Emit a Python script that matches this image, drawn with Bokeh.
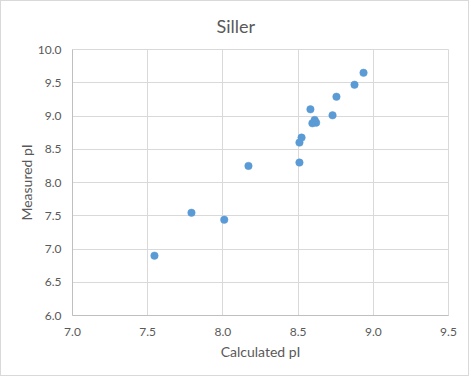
from bokeh.plotting import figure
from bokeh.models import Range1d, FixedTicker, NumeralTickFormatter
from bokeh.embed import file_html
from bokeh.resources import INLINE

calculated_pi = [8.935, 8.875, 8.755, 8.582, 8.729, 8.595, 8.610, 8.620,
                 8.523, 8.509, 8.509, 8.170, 7.791, 8.009, 7.545]
measured_pi = [9.65, 9.47, 9.29, 9.10, 9.01, 8.89, 8.94, 8.90,
               8.675, 8.60, 8.30, 8.25, 7.545, 7.44, 6.90]
x_ticks = [7.0, 7.5, 8.0, 8.5, 9.0, 9.5]
y_ticks = [6.0, 6.5, 7.0, 7.5, 8.0, 8.5, 9.0, 9.5, 10.0]

FONT = "Lato"
TXT = "#595959"

p = figure(width=469, height=376, output_backend="svg", toolbar_location=None,
           x_range=Range1d(7.0, 9.5), y_range=Range1d(6.0, 10.0),
           min_border_left=71, min_border_right=22, min_border_top=48, min_border_bottom=62,
           title="Siller")
p.styles = {"border": "1px solid #d9d9d9"}
p.title.align = "left"
p.title.vertical_align = "top"
p.title.text_font = FONT
p.title.text_font_size = "18px"
p.title.text_font_style = "normal"
p.title.text_color = TXT
p.title.offset = 144
p.title.standoff = 22

p.outline_line_color = "#d9d9d9"
p.background_fill_color = "white"
p.border_fill_color = "white"

for ax, ticks in ((p.xaxis[0], x_ticks), (p.yaxis[0], y_ticks)):
    ax.ticker = FixedTicker(ticks=ticks)
    ax.formatter = NumeralTickFormatter(format="0.0")
    ax.major_tick_line_color = None
    ax.minor_tick_line_color = None
    ax.major_tick_out = 0
    ax.major_tick_in = 0
    ax.axis_line_color = "#bfbfbf"
    ax.major_label_text_font = FONT
    ax.major_label_text_font_size = "12px"
    ax.major_label_text_color = TXT
    ax.axis_label_text_font = FONT
    ax.axis_label_text_font_size = "14px"
    ax.axis_label_text_font_style = "normal"
    ax.axis_label_text_color = TXT

p.xaxis.axis_label = "Calculated pI"
p.yaxis.axis_label = "Measured pI"
p.xaxis.major_label_standoff = 12
p.yaxis.major_label_standoff = 11
p.xaxis.axis_label_standoff = 4
p.yaxis.axis_label_standoff = 0

p.xgrid.ticker = FixedTicker(ticks=x_ticks)
p.ygrid.ticker = FixedTicker(ticks=y_ticks)
p.grid.grid_line_color = "#d9d9d9"
p.grid.grid_line_width = 1

p.scatter(calculated_pi, measured_pi, size=7.5, fill_color="#5b9bd5",
          line_color="#5b9bd5", line_width=0.5)

open("out.html", "w").write(file_html(p, INLINE))
